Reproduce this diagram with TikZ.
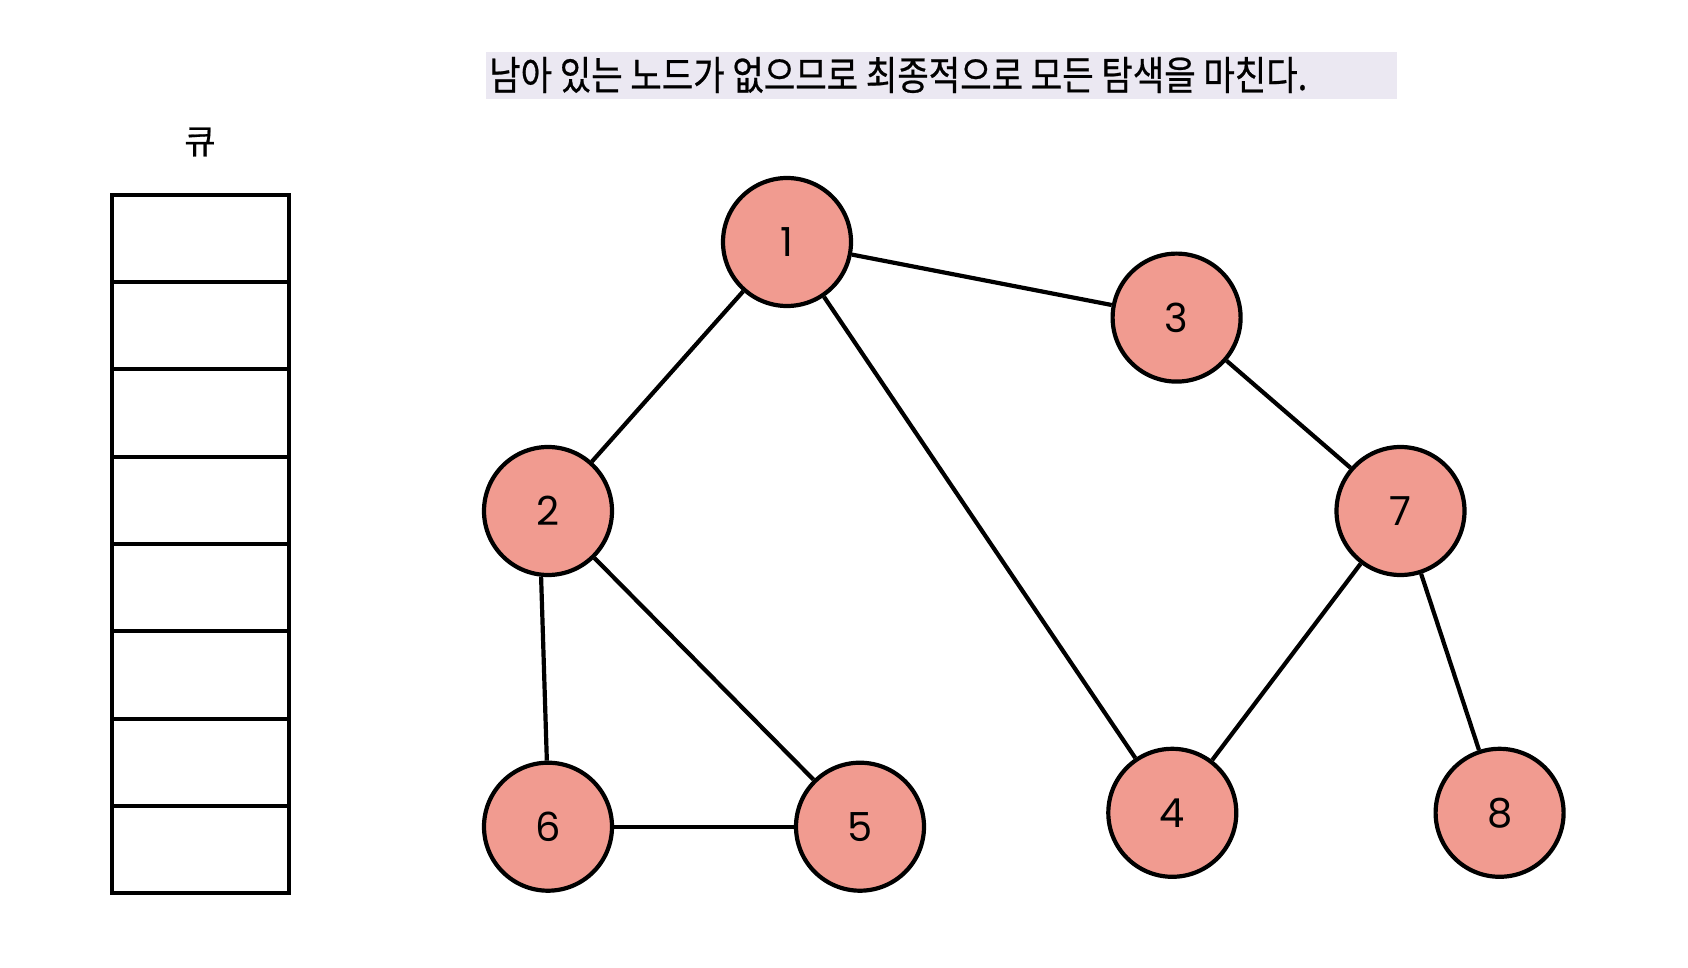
\documentclass[tikz,border=0pt]{standalone}
\usepackage{fontspec}
\usepackage{graphicx}
\newfontfamily\krfont{Noto Sans CJK KR}
\newfontfamily\krbold[FakeBold=0.6]{Noto Sans CJK KR}
\newfontfamily\numfont{Poppins}
\definecolor{nodefill}{HTML}{F19B90}
\definecolor{bannerfill}{HTML}{EBE8F2}
\tikzset{
  vert/.style={circle, draw=black, line width=4.2pt, fill=nodefill, minimum size=128pt, inner sep=0pt, font=\numfont\fontsize{40}{40}\selectfont},
  edge/.style={draw=black, line width=4.2pt},
  cell/.style={rectangle, draw=black, line width=4pt, minimum width=176.5pt, minimum height=87.3pt, inner sep=0pt},
  banner/.style={rectangle, fill=bannerfill, minimum width=911.5pt, minimum height=47.3pt, inner sep=0pt},
  title/.style={font=\krbold\fontsize{34}{34}\selectfont, inner sep=0pt}
}
\begin{document}
\begin{tikzpicture}[x=1pt,y=-1pt]
\useasboundingbox (0,0) rectangle (1688,968);
% banner
\node[banner] (ban) at (941.25,75.35) {};
\node[anchor=west, inner sep=0pt, font=\krbold\fontsize{40}{40}\selectfont] (msg) at (489,75) {\resizebox{818pt}{\height}{남아 있는 노드가 없으므로 최종적으로 모든 탐색을 마친다.}};
% queue
\node[title] (qt) at (200,142) {큐};
\foreach \i in {0,...,7} {
  \node[cell] (q\i) at (200.25,{238.45+87.3*\i}) {};
}
% graph nodes
\node[vert] (n1) at (787,242) {1};
\node[vert] (n3) at (1176.6,317.6) {3};
\node[vert] (n2) at (548,511) {2};
\node[vert] (n7) at (1400.5,511) {7};
\node[vert] (n6) at (548,826.7) {6};
\node[vert] (n5) at (860,826.7) {5};
\node[vert] (n4) at (1172.3,812.8) {4};
\node[vert] (n8) at (1499.6,812.8) {8};
% edges
\draw[edge] (n1) -- (n2);
\draw[edge] (n1) -- (n3);
\draw[edge] (n1) -- (n4);
\draw[edge] (n3) -- (n7);
\draw[edge] (n2.264) -- (n6.91);
\draw[edge] (n2) -- (n5);
\draw[edge] (n6) -- (n5);
\draw[edge] (n7) -- (n4);
\draw[edge] (n7) -- (n8);
\end{tikzpicture}
\end{document}
